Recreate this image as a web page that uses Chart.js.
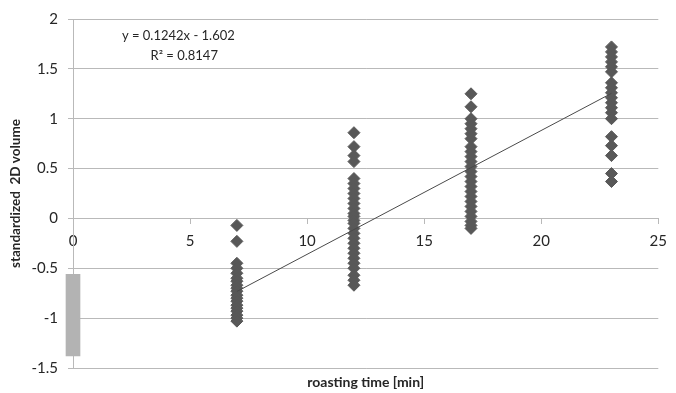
<!DOCTYPE html>
<html>
<head>
<meta charset="utf-8">
<script src="https://cdn.jsdelivr.net/npm/chart.js@4/dist/chart.umd.min.js"></script>
<style>
  html, body { margin: 0; padding: 0; background: #fff; }
  #wrap { width: 676px; height: 393px; }
</style>
</head>
<body>
<div id="wrap"><canvas id="roastChart"></canvas></div>
<script>
// roasting times (min) and standardized 2D volume
const roastTimes = [7, 12, 17, 23];
const volume7 = [-0.07, -0.23, -0.45, -0.5, -0.55, -0.6, -0.63, -0.67, -0.7, -0.73, -0.77, -0.8, -0.83, -0.87, -0.9, -0.93, -0.97, -1.0, -1.03];
const volume12 = [0.86, 0.72, 0.63, 0.57, 0.4, 0.35, 0.3, 0.25, 0.2, 0.15, 0.1, 0.05, 0.02, -0.02, -0.05, -0.1, -0.15, -0.2, -0.25, -0.3, -0.35, -0.4, -0.45, -0.5, -0.57, -0.62, -0.67];
const volume17 = [1.25, 1.12, 1.0, 0.95, 0.9, 0.85, 0.8, 0.72, 0.67, 0.62, 0.57, 0.52, 0.47, 0.42, 0.37, 0.32, 0.27, 0.22, 0.17, 0.12, 0.07, 0.02, -0.03, -0.07, -0.1];
const volume23 = [1.72, 1.67, 1.62, 1.57, 1.52, 1.47, 1.36, 1.31, 1.26, 1.21, 1.16, 1.11, 1.06, 1.0, 0.82, 0.73, 0.63, 0.45, 0.37];
// raw (unroasted) sample range at time 0
const controlTime = 0;
const controlRange = [-1.38, -0.56];
// linear trend
const slope = 0.1242;
const intercept = -1.602;
const trendFrom = 7;
const trendTo = 23;
const eqText = 'y = 0.1242x - 1.602';
const r2Text = 'R\u00B2 = 0.8147';
// axis tick labels
const xTicks = [0, 5, 10, 15, 20, 25];
const yTicks = [-1.5, -1, -0.5, 0, 0.5, 1, 1.5, 2];
const yTickLabels = ['-1.5', '-1', '-0.5', '0', '0.5', '1', '1.5', '2'];

Chart.defaults.font.family = 'Lato, "Open Sans", sans-serif';
Chart.defaults.color = '#262626';

const groups = [volume7, volume12, volume17, volume23];
const points = [];
groups.forEach((vals, i) => {
  vals.forEach(v => points.push({ x: roastTimes[i], y: v }));
});

const trendPoints = [trendFrom, trendTo].map(t => ({ x: t, y: slope * t + intercept }));

// equation text placed in data coordinates
const equationLabel = {
  id: 'equationLabel',
  afterDatasetsDraw(chart) {
    const { ctx, scales: { x, y } } = chart;
    ctx.save();
    ctx.font = '13px Lato, "Open Sans", sans-serif';
    ctx.fillStyle = '#262626';
    ctx.textAlign = 'center';
    ctx.textBaseline = 'middle';
    ctx.fillText(eqText, x.getPixelForValue(4.5), y.getPixelForValue(1.83));
    ctx.fillText(r2Text, x.getPixelForValue(4.75), y.getPixelForValue(1.63));
    ctx.restore();
  }
};

const ctx = document.getElementById('roastChart').getContext('2d');
new Chart(ctx, {
  type: 'scatter',
  data: {
    datasets: [
      {
        type: 'bar',
        data: [{ x: controlTime, y: controlRange }],
        backgroundColor: '#b3b3b3',
        borderWidth: 0,
        barThickness: 14,
        clip: false,
        order: 3
      },
      {
        type: 'scatter',
        data: points,
        pointStyle: 'rectRot',
        pointRadius: 6,
        pointBackgroundColor: '#585858',
        pointBorderColor: '#585858',
        pointBorderWidth: 1,
        order: 2
      },
      {
        type: 'line',
        data: trendPoints,
        borderColor: '#4a4a4a',
        borderWidth: 1,
        pointRadius: 0,
        fill: false,
        order: 1
      }
    ]
  },
  options: {
    responsive: true,
    maintainAspectRatio: false,
    animation: false,
    layout: { padding: { top: 18, right: 14, left: 0, bottom: 0 } },
    plugins: {
      legend: { display: false },
      tooltip: { enabled: false }
    },
    scales: {
      x: {
        type: 'linear',
        position: { y: 0 },
        min: 0,
        max: 25,
        offset: false,
        afterBuildTicks(scale) { scale.ticks = xTicks.map(v => ({ value: v })); },
        ticks: { padding: 9, font: { size: 15 } },
        grid: { drawOnChartArea: false, drawTicks: true, tickLength: 5, color: '#b9b9b9', offset: false },
        border: { color: '#b9b9b9' },
        afterFit(scale) { scale.height = 0; }
      },
      x2: {
        type: 'linear',
        position: 'bottom',
        display: true,
        ticks: { display: false },
        grid: { display: false },
        border: { display: false },
        title: {
          display: true,
          text: 'roasting time [min]',
          font: { size: 14, weight: 'bold' },
          padding: { top: 0, bottom: 2 }
        },
        afterFit(scale) { scale.height = 25; }
      },
      y: {
        min: -1.5,
        max: 2,
        afterBuildTicks(scale) { scale.ticks = yTicks.map(v => ({ value: v })); },
        ticks: {
          padding: 10,
          font: { size: 15 },
          callback: (v) => yTickLabels[yTicks.indexOf(v)]
        },
        grid: { color: '#b9b9b9', tickLength: 5 },
        border: { color: '#b9b9b9' },
        title: {
          display: true,
          text: 'standardized  2D volume',
          font: { size: 13.5, weight: 'bold' },
          padding: { top: 8, bottom: 0 }
        },
        afterFit(scale) { scale.width = 73; }
      }
    }
  },
  plugins: [equationLabel]
});
</script>
</body>
</html>
